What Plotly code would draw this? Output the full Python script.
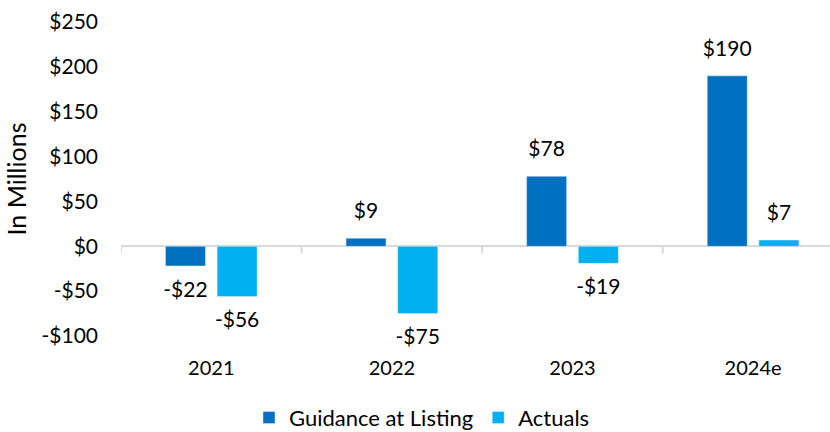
import plotly.graph_objects as go

categories = ["2021", "2022", "2023", "2024e"]
guidance = [-22, 9, 78, 190]
actuals = [-56, -75, -19, 7]
series_names = ["Guidance at Listing", "Actuals"]
colors = ["#0070C0", "#00B0F0"]
y_ticks = [-100, -50, 0, 50, 100, 150, 200, 250]

def money(v):
    return f"-${abs(v)}" if v < 0 else f"${v}"

FONT = "Lato"
BARGAP = 0.4275
fig = go.Figure()
for name, vals, col in zip(series_names, [guidance, actuals], colors):
    fig.add_trace(go.Bar(x=categories, y=vals, name=name, marker_color=col))
for name, vals in zip(series_names, [guidance, actuals]):
    fig.add_trace(go.Scatter(
        x=categories, y=vals, mode="markers+text", showlegend=False, hoverinfo="skip",
        marker=dict(size=22, color="rgba(0,0,0,0)"), cliponaxis=False,
        text=[money(v) for v in vals],
        textposition=["top center" if v >= 0 else "bottom center" for v in vals],
        textfont=dict(size=21, color="#000000", family=FONT)))

# category boundary tick marks on the zero line
for i in range(len(categories) + 1):
    fig.add_shape(type="line", xref="x", yref="y", x0=i - 0.5, x1=i - 0.5, y0=0, y1=-8,
                  line=dict(color="#D9D9D9", width=2))

fig.update_layout(
    width=830, height=432,
    margin=dict(l=121, r=0, t=22, b=96),
    paper_bgcolor="white", plot_bgcolor="white",
    barmode="group", bargap=BARGAP, bargroupgap=0.226,
    scattermode="group", scattergap=BARGAP,
    font=dict(family=FONT, size=20, color="#000000"),
    showlegend=True,
    legend=dict(orientation="h", xref="container", yref="container",
                x=0.30, xanchor="left", y=0.033, yanchor="middle",
                font=dict(size=22), itemwidth=30, traceorder="normal"),
)
fig.update_xaxes(type="category", range=[-0.5, 3.426], showline=False, showgrid=False,
                 ticks="", ticklabelstandoff=18, tickfont=dict(size=20), automargin=False)
fig.update_yaxes(range=[-100, 250], tickvals=y_ticks, ticktext=[money(v) for v in y_ticks],
                 showgrid=False, zeroline=True, zerolinecolor="#D9D9D9", zerolinewidth=2,
                 showline=False, ticklabelstandoff=22, tickfont=dict(size=21), automargin=False,
                 title=dict(text="In Millions", font=dict(size=25), standoff=7))

fig.write_html("out.html", config={"displayModeBar": False},
               post_script="document.body.style.margin='0';")
